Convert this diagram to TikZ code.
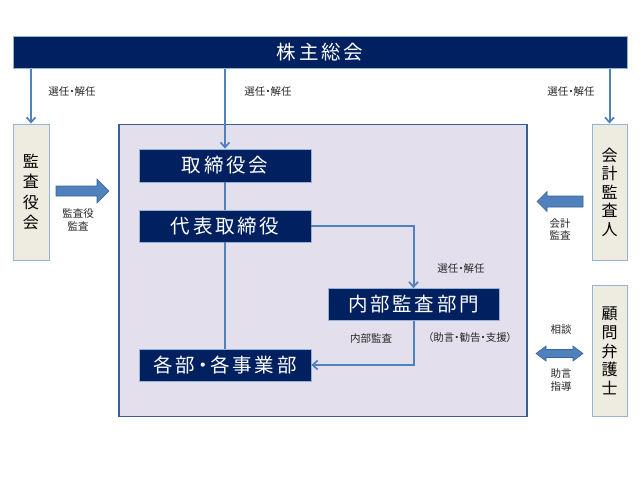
\documentclass[tikz,border=0pt]{standalone}
\usepackage{fontspec}
\setmainfont[RawFeature=+palt]{Noto Sans CJK JP}
\newfontfamily\jpspaced[LetterSpace=14,RawFeature=+palt]{Noto Sans CJK JP}
\usetikzlibrary{arrows.meta}
\definecolor{navy}{HTML}{002060}
\definecolor{mainfill}{HTML}{E4DFEC}
\definecolor{mainline}{HTML}{3A5F93}
\definecolor{sidefill}{HTML}{EEECE1}
\definecolor{sideline}{HTML}{95B3D7}
\definecolor{conncol}{HTML}{4F81BD}
\definecolor{arrline}{HTML}{3A6398}
\definecolor{labelcol}{HTML}{262626}
\begin{document}
\begin{tikzpicture}[x=1pt,y=-1pt,
  navybox/.style={draw=sideline,line width=0.8pt,fill=navy,text=white,inner sep=0pt,
    font=\jpspaced\fontsize{19.5}{22}\selectfont},
  sidebox/.style={draw=sideline,line width=0.9pt,fill=sidefill,inner sep=0pt,align=center,
    text=black,font=\fontsize{16}{19}\selectfont},
  mainbox/.style={draw=mainline,line width=1.6pt,fill=mainfill,inner sep=0pt},
  conn/.style={draw=conncol,line width=2pt},
  tip/.style={-{Straight Barb[length=5pt,width=9pt,line width=1.7pt]}},
  lbl/.style={text=labelcol,inner sep=0pt,align=center,font=\fontsize{10.5}{12.5}\selectfont},
  blockarrow/.style={fill=conncol,draw=arrline,line width=0.6pt,line join=miter}]
\useasboundingbox (0,0) rectangle (640,480);

% main frame
\node[mainbox,minimum width=408,minimum height=292] (main) at (323,270.5) {};

% top bar
\node[navybox,minimum width=614,minimum height=32] (bar) at (320,52.5) {株主総会};

% side boxes
\node[sidebox,minimum width=36,minimum height=136,font=\fontsize{16}{20.5}\selectfont] (kansa) at (31,192) {監\\査\\役\\会};
\node[sidebox,minimum width=35,minimum height=136,font=\fontsize{16}{18.5}\selectfont] (kaikei) at (609.5,192) {会\\計\\監\\査\\人};
\node[sidebox,minimum width=35,minimum height=131,font=\fontsize{16}{18.7}\selectfont] (komon) at (609.5,351) {顧\\問\\弁\\護\\士};

% inner boxes
\node[navybox,minimum width=172,minimum height=33] (tori) at (225,165.5) {取締役会};
\node[navybox,minimum width=172,minimum height=32] (dai) at (225,226) {代表取締役};
\node[navybox,minimum width=171,minimum height=32] (naibu) at (413.5,304.5) {内部監査部門};
\node[navybox,minimum width=172,minimum height=32] (kakubu) at (225,365) {各部・各事業部};

% connectors
\draw[conn,tip] (bar.south -| kansa.north) -- (kansa.north);
\draw[conn,tip] (bar.south -| kaikei.north) -- (kaikei.north);
\draw[conn,tip] (bar.south -| tori.north) -- (tori.north);
\draw[conn] (tori.south) -- (dai.north);
\draw[conn] (dai.south) -- (kakubu.north);
\draw[conn,tip] (dai.east) -| (naibu.north);
\draw[conn,tip] (naibu.south) |- (kakubu.east);

% block arrows
\draw[blockarrow] (56,186) -- (97,186) -- (97,179) -- (109,191) -- (97,203) -- (97,196) -- (56,196) -- cycle;
\draw[blockarrow] (583,196) -- (547,196) -- (547,191.5) -- (537,201.5) -- (547,211.5) -- (547,207) -- (583,207) -- cycle;
\draw[blockarrow] (536,353.5) -- (546,346) -- (546,349.5) -- (573,349.5) -- (573,346) -- (583,353.5) -- (573,361) -- (573,357.5) -- (546,357.5) -- (546,361) -- cycle;

% labels
\node[lbl] (l1) at (72,92) {選任・解任};
\node[lbl] (l2) at (268,92) {選任・解任};
\node[lbl] (l3) at (571,92) {選任・解任};
\node[lbl] (l4) at (461,269) {選任・解任};
\node[lbl] (l5) at (371,339) {内部監査};
\node[lbl] (l6) at (470,338) {（助言・勧告・支援）};
\node[lbl] (l7) at (78,220) {監査役\\監査};
\node[lbl] (l8) at (560,229.5) {会計\\監査};
\node[lbl] (l9) at (561,330) {相談};
\node[lbl] (l10) at (561,380) {助言\\指導};
\end{tikzpicture}
\end{document}
